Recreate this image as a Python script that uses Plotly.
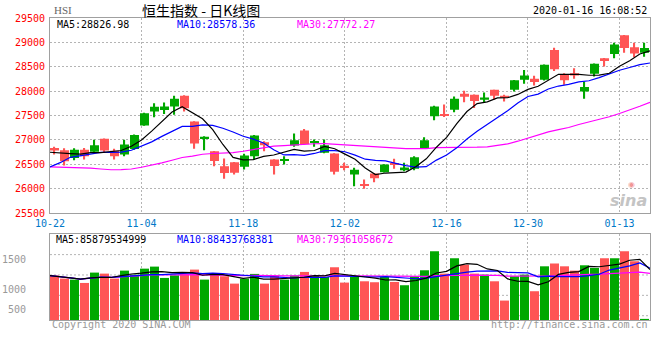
import numpy as np
import pandas as pd
import plotly.graph_objects as go

# ---------------- data ----------------
dates = ["2019-10-22", "2019-10-23", "2019-10-24", "2019-10-25", "2019-10-28", "2019-10-29", "2019-10-30", "2019-10-31",
         "2019-11-01", "2019-11-04", "2019-11-05", "2019-11-06", "2019-11-07", "2019-11-08", "2019-11-11", "2019-11-12",
         "2019-11-13", "2019-11-14", "2019-11-15", "2019-11-18", "2019-11-19", "2019-11-20", "2019-11-21", "2019-11-22",
         "2019-11-25", "2019-11-26", "2019-11-27", "2019-11-28", "2019-11-29", "2019-12-02", "2019-12-03", "2019-12-04",
         "2019-12-05", "2019-12-06", "2019-12-09", "2019-12-10", "2019-12-11", "2019-12-12", "2019-12-13", "2019-12-16",
         "2019-12-17", "2019-12-18", "2019-12-19", "2019-12-20", "2019-12-23", "2019-12-24", "2019-12-27", "2019-12-30",
         "2019-12-31", "2020-01-02", "2020-01-03", "2020-01-06", "2020-01-07", "2020-01-08", "2020-01-09", "2020-01-10",
         "2020-01-13", "2020-01-14", "2020-01-15", "2020-01-16"]

# closes of the 29 sessions before the first shown day (feed the moving averages)
prior_closes = [26681.40, 26683.68, 27159.06, 27087.64, 27352.69, 27124.03, 26790.24, 26754.12, 26468.95, 26435.67,
                26222.40, 26281.00, 25945.35, 26041.93, 25954.81, 26092.27, 26042.69, 26110.31, 25821.03, 25893.40,
                25682.81, 25707.93, 26308.44, 26521.85, 26503.93, 26664.28, 26848.49, 26719.58, 26725.68]

opens = [26836, 26788, 26632, 26802, 26761, 27026, 26781, 26700, 26815, 27298,
         27583, 27617, 27685, 27909, 27379, 27040, 26768, 26462, 26544, 26449,
         26668, 26955, 26600, 26580, 26886, 27193, 26940, 26736, 26723, 26470,
         26293, 26075, 26313, 26341, 26530, 26382, 26409, 26825, 27486, 27530,
         27622, 27948, 27927, 27825, 28029, 27907, 28029, 28233, 28253, 28233,
         28844, 28335, 28370, 27995, 28355, 28674, 28762, 29149, 28898, 28790]
highs = [26860, 26829, 26829, 26836, 27006, 27030, 26822, 27006, 27110, 27560,
         27753, 27767, 27909, 27915, 27385, 27075, 26775, 26618, 26550, 26720,
         27100, 26975, 26605, 26668, 27132, 27227, 27009, 27009, 26728, 26532,
         26429, 26191, 26318, 26505, 26613, 26532, 26668, 27057, 27700, 27725,
         27893, 28009, 27932, 27975, 28032, 27927, 28230, 28436, 28314, 28548,
         28891, 28369, 28470, 28199, 28565, 28680, 28993, 29152, 28993, 28993]
lows = [26700, 26476, 26584, 26598, 26733, 26740, 26598, 26666, 26800, 27290,
        27467, 27535, 27515, 27583, 26822, 26790, 26462, 26204, 26292, 26394,
        26600, 26770, 26293, 26498, 26859, 26905, 26859, 26730, 26293, 26382,
        26054, 26000, 26136, 26335, 26409, 26361, 26382, 26820, 27404, 27473,
        27567, 27771, 27656, 27757, 27825, 27791, 27995, 28151, 28117, 28219,
        28416, 28131, 28253, 27846, 28301, 28504, 28674, 28790, 28694, 28708]
closes = [26786.76, 26566.73, 26797.95, 26667.39, 26891.26, 26786.20, 26667.71, 26906.72, 27100.76, 27547.30,
          27683.40, 27688.64, 27847.23, 27651.14, 26926.55, 27065.28, 26571.46, 26323.69, 26326.66, 26681.09,
          27093.80, 26889.61, 26466.88, 26595.08, 26993.04, 26913.92, 26954.00, 26893.73, 26346.49, 26444.72,
          26391.30, 26062.56, 26217.04, 26498.37, 26494.73, 26436.62, 26645.83, 26994.14, 27687.76, 27508.09,
          27843.71, 27884.21, 27800.49, 27871.35, 27906.41, 27864.21, 28225.42, 28319.39, 28189.75, 28543.52,
          28451.50, 28226.19, 28322.06, 28087.92, 28561.00, 28638.20, 28954.94, 28885.14, 28773.59, 28883.04]
volumes = [1238, 1188, 1171, 1115, 1288, 1271, 1188, 1321, 1254, 1354,
           1388, 1199, 1243, 1266, 1338, 1171, 1266, 1227, 1104, 1188,
           1266, 1104, 1238, 1171, 1238, 1299, 1238, 1216, 1377, 1121,
           1216, 1143, 1127, 1216, 1132, 1077, 1227, 1327, 1643, 1271,
           1527, 1421, 1271, 1254, 1143, 821, 1227, 1254, 977, 1393,
           1438, 1393, 1321, 1410, 1366, 1527, 1527, 1643, 1477, 515]

x_tick_labels = ["10-22", "11-04", "11-18", "12-02", "12-16", "12-30", "01-13"]
price_ticks = [25500, 26000, 26500, 27000, 27500, 28000, 28500, 29000, 29500]
volume_ticks = [1000, 1500]
volume_low_label = "500"
price_ma_labels = ["MA5:28826.98", "MA10:28578.36", "MA30:27772.27"]
volume_ma_labels = ["MA5:85879534999", "MA10:88433768381", "MA30:79361058672"]
title_code = "HSI"
title_text = "恒生指数 - 日K线图"
timestamp = "2020-01-16 16:08:52"
copyright_text = "Copyright 2020 SINA.COM"
url_text = "http://finance.sina.com.cn"
watermark = "sina"

# ---------------- derived ----------------
n = len(closes)
idx = np.arange(n)
o = np.array(opens, float)
h = np.array(highs, float)
l = np.array(lows, float)
c = np.array(closes, float)
v = np.array(volumes, float)

all_close = pd.Series(prior_closes + closes)
ma5 = all_close.rolling(5).mean().to_numpy()[-n:]
ma10 = all_close.rolling(10).mean().to_numpy()[-n:]
ma30 = all_close.rolling(30).mean().to_numpy()[-n:]
vs = pd.Series(volumes, dtype=float)
vma5 = vs.rolling(5, min_periods=1).mean().to_numpy()
vma10 = vs.rolling(10, min_periods=1).mean().to_numpy()
vma30 = vs.rolling(30, min_periods=1).mean().to_numpy()

# Sina draws lines / grid on an (n-1) spread across the full width, candles on fixed slots
line_x = idx * n / (n - 1) - 0.45
short = [d[5:] for d in dates]
tick_idx = [short.index(t) for t in x_tick_labels]
tick_x = [line_x[i] for i in tick_idx]

RED = "#FF5555"
GREEN = "#00A800"
up = c >= o
colors = [GREEN if u else RED for u in up]

fig = go.Figure()
# wicks
fig.add_trace(go.Bar(x=idx, y=h - l, base=l, width=0.12, marker=dict(color=colors, line=dict(width=0)),
                     xaxis="x", yaxis="y", hoverinfo="skip"))
# bodies
body_base = np.minimum(o, c)
body_h = np.maximum(np.abs(c - o), 22)
fig.add_trace(go.Bar(x=idx, y=body_h, base=body_base, width=0.9, marker=dict(color=colors, line=dict(width=0)),
                     xaxis="x", yaxis="y"))
for ys, col in [(ma30, "#FF00FF"), (ma10, "#0000FF"), (ma5, "#000000")]:
    fig.add_trace(go.Scatter(x=line_x, y=ys, mode="lines", line=dict(color=col, width=1.2),
                             xaxis="x", yaxis="y", hoverinfo="skip"))

# volume
fig.add_trace(go.Bar(x=idx, y=v, width=0.9, marker=dict(color=colors, line=dict(width=0)),
                     xaxis="x2", yaxis="y2"))
for ys, col in [(vma30, "#FF00FF"), (vma10, "#0000FF"), (vma5, "#000000")]:
    fig.add_trace(go.Scatter(x=line_x, y=ys, mode="lines", line=dict(color=col, width=1.2),
                             xaxis="x2", yaxis="y2", hoverinfo="skip"))

# ---------------- layout ----------------
W, H = 660, 360
PLOT_L, PLOT_R, PLOT_T, PLOT_B = 50, 650, 18, 320.5   # page pixels
L, R, T, B = PLOT_L, W - PLOT_R, PLOT_T, H - PLOT_B
plot_h = PLOT_B - PLOT_T


def px(X):
    return (X - PLOT_L) / (PLOT_R - PLOT_L)


def py(Y):
    return (PLOT_B - Y) / plot_h


MONO = "DejaVu Sans Mono"
GRID = "#b4b4b4"
BORDER = "#a0a0a0"

main_dom = [py(213.5), 1]
vol_dom = [0, py(234.5)]

axis_common = dict(showline=True, mirror=True, linecolor=BORDER, linewidth=1, zeroline=False,
                   gridcolor=GRID, griddash="2px,2px", gridwidth=1, ticks="", automargin=False)

fig.update_layout(
    width=W, height=H, autosize=False,
    margin=dict(l=L, r=R, t=T, b=B, pad=0, autoexpand=False),
    paper_bgcolor="white", plot_bgcolor="white",
    showlegend=False, barmode="overlay", hovermode=False,
    xaxis=dict(domain=[0, 1], anchor="y", range=[-0.45, n - 0.45], tickmode="array",
               tickvals=tick_x, ticktext=x_tick_labels, showgrid=True,
               tickfont=dict(family=MONO, size=10, color="#0078C8"), ticklabelstandoff=1, **axis_common),
    yaxis=dict(domain=main_dom, anchor="x", range=[price_ticks[0], price_ticks[-1]], tickmode="array",
               tickvals=price_ticks, ticktext=[str(t) for t in price_ticks], showgrid=True,
               tickfont=dict(family=MONO, size=10, color="#FF0000"), ticklabelstandoff=2, **axis_common),
    xaxis2=dict(domain=[0, 1], anchor="y2", matches="x", range=[-0.45, n - 0.45], tickmode="array",
                tickvals=tick_x, showticklabels=False, showgrid=True, **axis_common),
    yaxis2=dict(domain=vol_dom, anchor="x2", range=[496.5, 1930], tickmode="array",
                tickvals=volume_ticks, ticktext=[str(t) for t in volume_ticks], showgrid=False,
                tickfont=dict(family=MONO, size=10, color="#999999"), ticklabelstandoff=21, **axis_common),
)

# horizontal dotted grid in the volume panel (evenly spaced)
for f in [0.05, 0.2872, 0.5244, 0.7616]:
    fig.add_shape(type="line", xref="x2 domain", yref="y2 domain", x0=0, x1=1, y0=f, y1=f,
                  line=dict(color=GRID, width=1, dash="2px,2px"), layer="below")


def ann(text, X, Y, color="#000", size=10, family=MONO, anchor="left", **kw):
    fig.add_annotation(text=text, x=px(X), y=py(Y), xref="paper", yref="paper", xanchor=anchor,
                       yanchor="middle", showarrow=False, font=dict(family=family, size=size, color=color, **kw))


ann(title_code, 52, 10, color="#666666", size=11, family="Liberation Serif")
ann(title_text, 140, 10, color="#000000", size=14, family="Noto Sans CJK SC")
ann(timestamp, 649, 10, color="#000000", size=10, anchor="right")

for text, X, col in zip(price_ma_labels, [55, 175, 295], ["#000000", "#0000FF", "#FF00FF"]):
    ann(text, X, 25, color=col)
for text, X, col in zip(volume_ma_labels, [54, 175, 295], ["#000000", "#0000FF", "#FF00FF"]):
    ann(text, X, 239.5, color=col)

ann(volume_low_label, 28, 310, color="#999999", anchor="right")
ann(copyright_text, 50, 325, color="#999999")
ann(url_text, 650, 325, color="#999999", anchor="right")
ann("◉", 631, 185, color="rgba(230,60,60,0.55)", size=8, family="DejaVu Sans", anchor="center")
ann(watermark, 649, 201, color="#c4c4c4", size=16, family="DejaVu Sans", anchor="right",
    style="italic", weight="bold")

# remove the default 8px page margin so the figure sits at the window's top-left corner
fig.write_html("out.html", config={"displayModeBar": False},
               post_script="document.body.style.margin='0';")
